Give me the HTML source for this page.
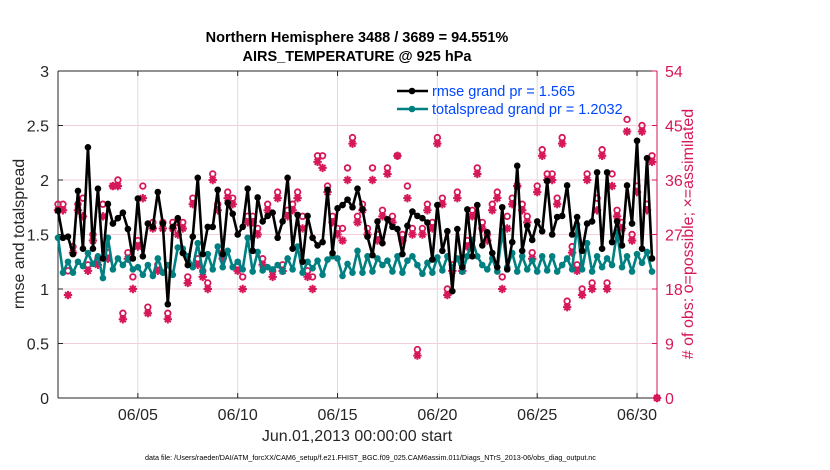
<!DOCTYPE html>
<html><head><meta charset="utf-8"><style>
body{margin:0;background:#fff}
svg{display:block;font-family:"Liberation Sans",sans-serif}
</style></head><body>
<svg id="chart" width="830" height="470" viewBox="0 0 830 470"></svg>
<script>
const rmse=[1.72,1.47,1.48,1.32,1.90,1.37,2.30,1.37,1.92,1.28,1.78,1.60,1.65,1.70,1.55,1.28,1.83,1.30,1.60,1.57,1.89,1.60,0.86,1.57,1.65,1.33,1.22,1.48,2.02,1.32,1.57,1.57,1.91,1.32,1.79,1.69,1.50,1.57,1.92,1.35,1.84,1.62,1.67,1.70,1.47,1.62,2.02,1.37,1.68,1.25,1.67,1.47,1.40,1.43,1.91,1.33,1.74,1.77,1.82,1.75,1.92,1.73,1.48,1.31,1.62,1.42,1.64,1.57,1.55,1.32,1.58,1.71,1.67,1.65,1.61,1.27,1.77,1.35,1.53,0.98,1.55,1.20,1.73,1.30,1.77,1.40,1.52,1.33,1.20,1.75,1.18,1.43,2.13,1.35,1.58,1.45,1.62,1.53,1.99,1.50,1.66,1.67,1.95,1.50,1.66,1.35,1.60,1.62,2.07,1.37,2.07,1.43,1.62,1.40,1.95,1.60,2.36,1.37,2.20,1.28];
const spread=[1.47,1.15,1.25,1.15,1.25,1.21,1.33,1.23,1.30,1.10,1.47,1.18,1.28,1.22,1.28,1.18,1.20,1.13,1.22,1.12,1.28,1.15,1.22,1.13,1.38,1.37,1.30,1.20,1.42,1.16,1.32,1.18,1.39,1.20,1.35,1.20,1.25,1.18,1.47,1.16,1.34,1.17,1.20,1.18,1.22,1.16,1.28,1.18,1.39,1.15,1.25,1.19,1.26,1.13,1.27,1.30,1.28,1.12,1.23,1.15,1.35,1.15,1.30,1.16,1.28,1.22,1.26,1.16,1.30,1.15,1.26,1.30,1.22,1.14,1.24,1.15,1.29,1.17,1.30,1.20,1.28,1.16,1.30,1.45,1.30,1.22,1.18,1.28,1.16,1.53,1.20,1.33,1.16,1.30,1.18,1.26,1.16,1.30,1.17,1.30,1.16,1.22,1.28,1.18,1.59,1.18,1.42,1.16,1.30,1.20,1.28,1.22,1.52,1.20,1.30,1.16,1.32,1.24,1.34,1.16];
const possible=[32,32,21,25,32,33,22,27,23,32,24,35,36,14,24,20,26,35,15,29,22,29,14,29,29,29,20,33,23,21,19,37,32,24,34,33,22,20,30,30,28,23,32,21,34,22,31,32,34,30,21,20,40,40,35,30,28,28,38,43,30,32,28,38,27,31,38,30,40,27,35,28,8,28,32,29,43,33,18,22,34,22,26,31,38,29,27,32,34,20,30,33,35,32,30,24,35,41,37,37,33,43,16,25,22,18,37,19,33,41,19,37,31,29,46,27,35,45,32,40,0];
const assimilated=[31,31,17,24,31,30,21,26,22,30,23,35,35,13,23,18,25,33,14,28,21,28,13,28,27,28,19,32,22,20,18,36,31,23,33,32,21,18,29,29,27,22,31,20,33,21,30,31,33,28,20,18,39,38,34,29,27,26,36,42,29,31,27,36,26,30,37,29,40,26,33,27,7,27,31,28,42,32,17,21,33,21,25,30,37,28,26,31,33,18,28,32,35,31,29,23,34,40,36,36,32,42,15,24,21,17,36,18,31,40,18,35,30,28,44,26,34,44,31,39,0];
const xTicks=[4,9,14,19,24,29];
const xTickLabels=["06/05","06/10","06/15","06/20","06/25","06/30"];
const yTicks=[0,0.5,1,1.5,2,2.5,3];
const yTickLabels=["0","0.5","1","1.5","2","2.5","3"];
const rTicks=[0,9,18,27,36,45,54];

const svg=document.getElementById('chart');
const NS='http://www.w3.org/2000/svg';
const L=58,R=657,T=71,B=398;
const xDay=d=>L+(R-L)*d/30;
const xIdx=i=>L+i*(R-L)/120;
const yL=v=>B-(B-T)*v/3;
const yR=v=>B-(B-T)*v/54;
function el(tag,attrs,parent){const e=document.createElementNS(NS,tag);for(const k in attrs)e.setAttribute(k,attrs[k]);(parent||svg).appendChild(e);return e;}
const RED='#d6175a';

const grid=el('g',{});


xTicks.forEach(d=>el('line',{x1:xDay(d),x2:xDay(d),y1:T,y2:B,stroke:'#dcdcdc','stroke-width':1},grid));
yTicks.forEach(v=>el('line',{x1:L,x2:R,y1:yL(v),y2:yL(v),stroke:'#f3cfdc','stroke-width':1},grid));

const ax=el('g',{});


el('line',{x1:L,x2:R,y1:T,y2:T,stroke:'#262626'},ax);
el('line',{x1:L,x2:R,y1:B,y2:B,stroke:'#262626'},ax);
el('line',{x1:L,x2:L,y1:T,y2:B,stroke:'#262626'},ax);
el('line',{x1:R,x2:R,y1:T,y2:B,stroke:RED},ax);
xTicks.forEach((d,k)=>{
  el('line',{x1:xDay(d),x2:xDay(d),y1:B,y2:B-5,stroke:'#262626'},ax);
  el('line',{x1:xDay(d),x2:xDay(d),y1:T,y2:T+5,stroke:'#262626'},ax);
  const t=el('text',{x:xDay(d),y:B+22,'text-anchor':'middle','font-size':16,fill:'#262626'},ax);t.textContent=xTickLabels[k];
  
  
});
yTicks.forEach((v,k)=>{
  el('line',{x1:L,x2:L+5,y1:yL(v),y2:yL(v),stroke:'#262626'},ax);
  const t=el('text',{x:L-9,y:yL(v)+6,'text-anchor':'end','font-size':16,fill:'#262626'},ax);t.textContent=yTickLabels[k];
  
  
});
rTicks.forEach(v=>{
  el('line',{x1:R-5,x2:R,y1:yR(v),y2:yR(v),stroke:RED},ax);
  const t=el('text',{x:R+8,y:yR(v)+6,'font-size':16,fill:RED},ax);t.textContent=String(v);
  
  
});

const obsG=el('g',{});


possible.forEach((v,i)=>{
  const c=el('circle',{cx:xIdx(i),cy:yR(v),r:2.8,fill:'none',stroke:RED,'stroke-width':1.8},obsG);
  
  
});
assimilated.forEach((v,i)=>{
  const x=xIdx(i),y=yR(v),s=4.2;
  const g=el('path',{d:`M${x-s},${y}H${x+s}M${x},${y-s}V${y+s}M${x-s*.7},${y-s*.7}L${x+s*.7},${y+s*.7}M${x-s*.7},${y+s*.7}L${x+s*.7},${y-s*.7}`,stroke:RED,'stroke-width':2},obsG);
  
  
});

function series(data,color,name){
  const g=el('g',{});
  
  
  el('polyline',{points:data.map((v,i)=>xIdx(i)+','+yL(v)).join(' '),fill:'none',stroke:color,'stroke-width':2.6,'stroke-linejoin':'round'},g);
  data.forEach((v,i)=>{const c=el('circle',{cx:xIdx(i),cy:yL(v),r:3.3,fill:color},g);
    
    });
}
series(spread,'#008080','totalspread-line');
series(rmse,'#000000','rmse-line');

const lg=el('g',{});


[['#000','rmse grand pr = 1.565',91],['#008080','totalspread grand pr = 1.2032',109]].forEach(([c,txt,y])=>{
  el('line',{x1:397,x2:428,y1:y,y2:y,stroke:c,'stroke-width':2.6},lg);
  el('circle',{cx:412,cy:y,r:3.3,fill:c},lg);
  const t=el('text',{x:432,y:y+5,'font-size':14.5,fill:'#0047ff'},lg);t.textContent=txt;
  
  
});

function txt(x,y,s,attrs,name){const t=el('text',Object.assign({x,y},attrs));t.textContent=s;
  
  return t;}
txt(357,42,'Northern Hemisphere 3488 / 3689 = 94.551%',{'text-anchor':'middle','font-size':14.5,'font-weight':'bold',fill:'#000'},'chart-title');
txt(357,61,'AIRS_TEMPERATURE @ 925 hPa',{'text-anchor':'middle','font-size':14.5,'font-weight':'bold',fill:'#000'},'chart-subtitle');
txt(357,441,'Jun.01,2013 00:00:00 start',{'text-anchor':'middle','font-size':16,fill:'#262626'},'x-axis-title');
txt(24,234,'rmse and totalspread',{'text-anchor':'middle','font-size':16,fill:'#262626',transform:'rotate(-90 24 234)'},'y-axis-title');
txt(693,234,'# of obs: o=possible; \u00d7=assimilated',{'text-anchor':'middle','font-size':16,fill:RED,transform:'rotate(-90 693 234)'},'right-axis-title');
txt(145,460,'data file: /Users/raeder/DAI/ATM_forcXX/CAM6_setup/f.e21.FHIST_BGC.f09_025.CAM6assim.011/Diags_NTrS_2013-06/obs_diag_output.nc',{'font-size':7.2,fill:'#000'},'data-file-note');
</script>
</body></html>
